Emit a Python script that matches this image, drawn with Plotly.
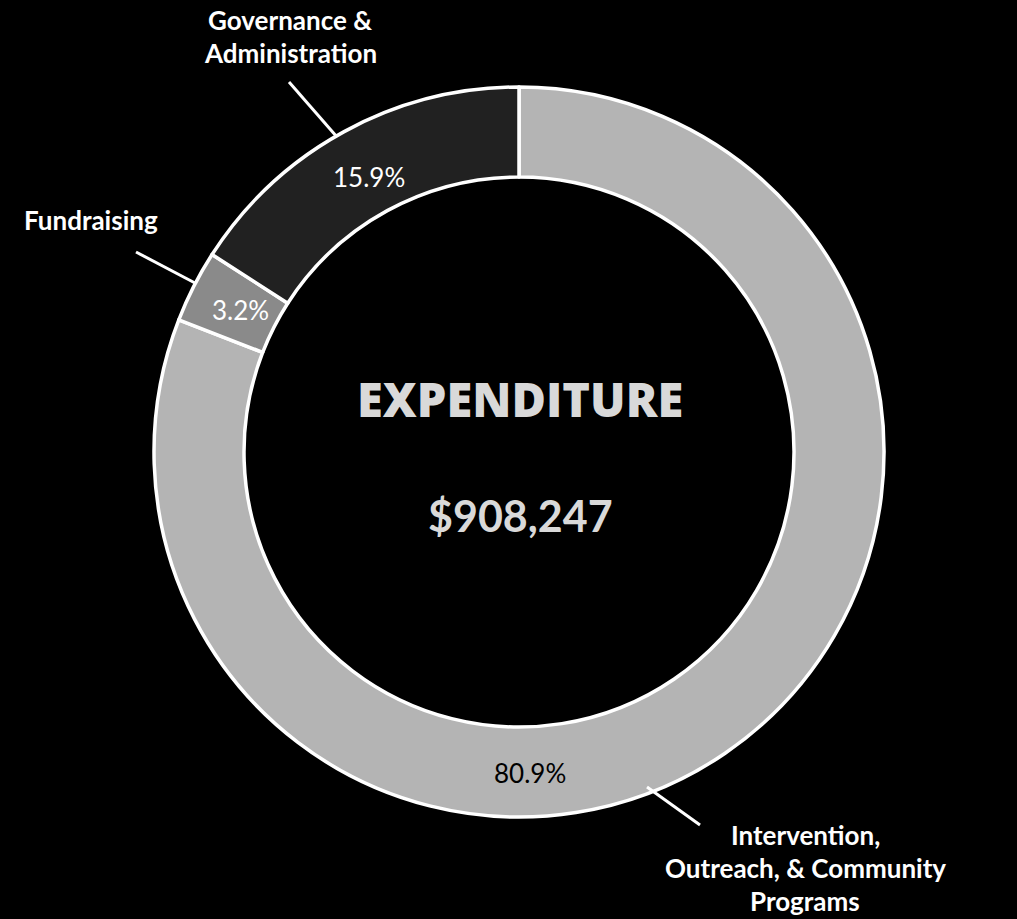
import math
import plotly.graph_objects as go

# Expenditure breakdown (share of total, %)
categories = ["Intervention, Outreach, & Community Programs", "Fundraising", "Governance & Administration"]
shares = [80.9, 3.2, 15.9]
colors = ["#b4b4b4", "#8a8a8a", "#212121"]
label_colors = ["#000000", "#ffffff", "#ffffff"]
total_label = "$908,247"
title_label = "EXPENDITURE"

W, H = 1017, 919
CX, CY = 519, 452          # ring centre (px)
R_OUT, R_IN = 365, 275     # ring radii (px)


def px(x, y):
    return x / W, 1 - y / H


def text_note(x, y, text, font):
    xp, yp = px(x, y)
    return dict(x=xp, y=yp, xref="paper", yref="paper", showarrow=False,
                xanchor="center", yanchor="middle", text=text, font=font)


fig = go.Figure()
fig.add_trace(go.Pie(
    labels=categories,
    values=shares,
    sort=False,
    direction="clockwise",
    rotation=0,
    hole=R_IN / R_OUT,
    marker=dict(colors=colors, line=dict(color="#ffffff", width=3.5)),
    textinfo="none",
    hoverinfo="label+percent",
    showlegend=False,
    domain=dict(x=[(CX - R_OUT) / W, (CX + R_OUT) / W],
                y=[1 - (CY + R_OUT) / H, 1 - (CY - R_OUT) / H]),
))

annotations = []

# percentage labels placed inside the ring at each slice's mid-angle
total = sum(shares)
start = 0.0
for i, v in enumerate(shares):
    span = 360 * v / total
    mid = start + span / 2
    start += span
    r_lab = 313
    if i == 0:
        mid, r_lab = 178, 321   # the large slice is labelled at the bottom
    a = math.radians(mid)
    x = CX + r_lab * math.sin(a)
    y = CY - r_lab * math.cos(a)
    annotations.append(text_note(
        x, y, f"{v:.1f}%",
        dict(family="Lato", size=26, color=label_colors[i])))

# category labels outside the ring
outer_labels = [
    (["Intervention,", "Outreach, & Community", "Programs"], 805, [835, 868, 901]),
    (["Fundraising"], 91, [220]),
    (["Governance &", "Administration"], 290, [20, 53]),
]
for lines, x, ys in outer_labels:
    for line, y in zip(lines, ys):
        annotations.append(text_note(
            x, y, line,
            dict(family="Lato", size=26, color="#ffffff", weight="bold")))

# centre titles
annotations.append(text_note(
    CX + 1, 399, title_label,
    dict(family="Open Sans", size=47, color="#d9d9d9", weight=800)))
annotations.append(text_note(
    CX + 1, 515, total_label,
    dict(family="Lato", size=43, color="#d9d9d9", weight="bold")))

# leader lines from the ring to the outer labels
leaders = [
    ((647, 787), (700, 825)),
    ((195, 283), (136, 252)),
    ((337, 137), (289, 82)),
]
shapes = []
for (x0, y0), (x1, y1) in leaders:
    a0, b0 = px(x0, y0)
    a1, b1 = px(x1, y1)
    shapes.append(dict(type="line", xref="paper", yref="paper",
                       x0=a0, y0=b0, x1=a1, y1=b1,
                       line=dict(color="#ffffff", width=3)))

fig.update_layout(
    width=W, height=H,
    margin=dict(l=0, r=0, t=0, b=0),
    paper_bgcolor="#000000",
    plot_bgcolor="#000000",
    annotations=annotations,
    shapes=shapes,
)

fig.write_html("out.html", config={"displayModeBar": False})
